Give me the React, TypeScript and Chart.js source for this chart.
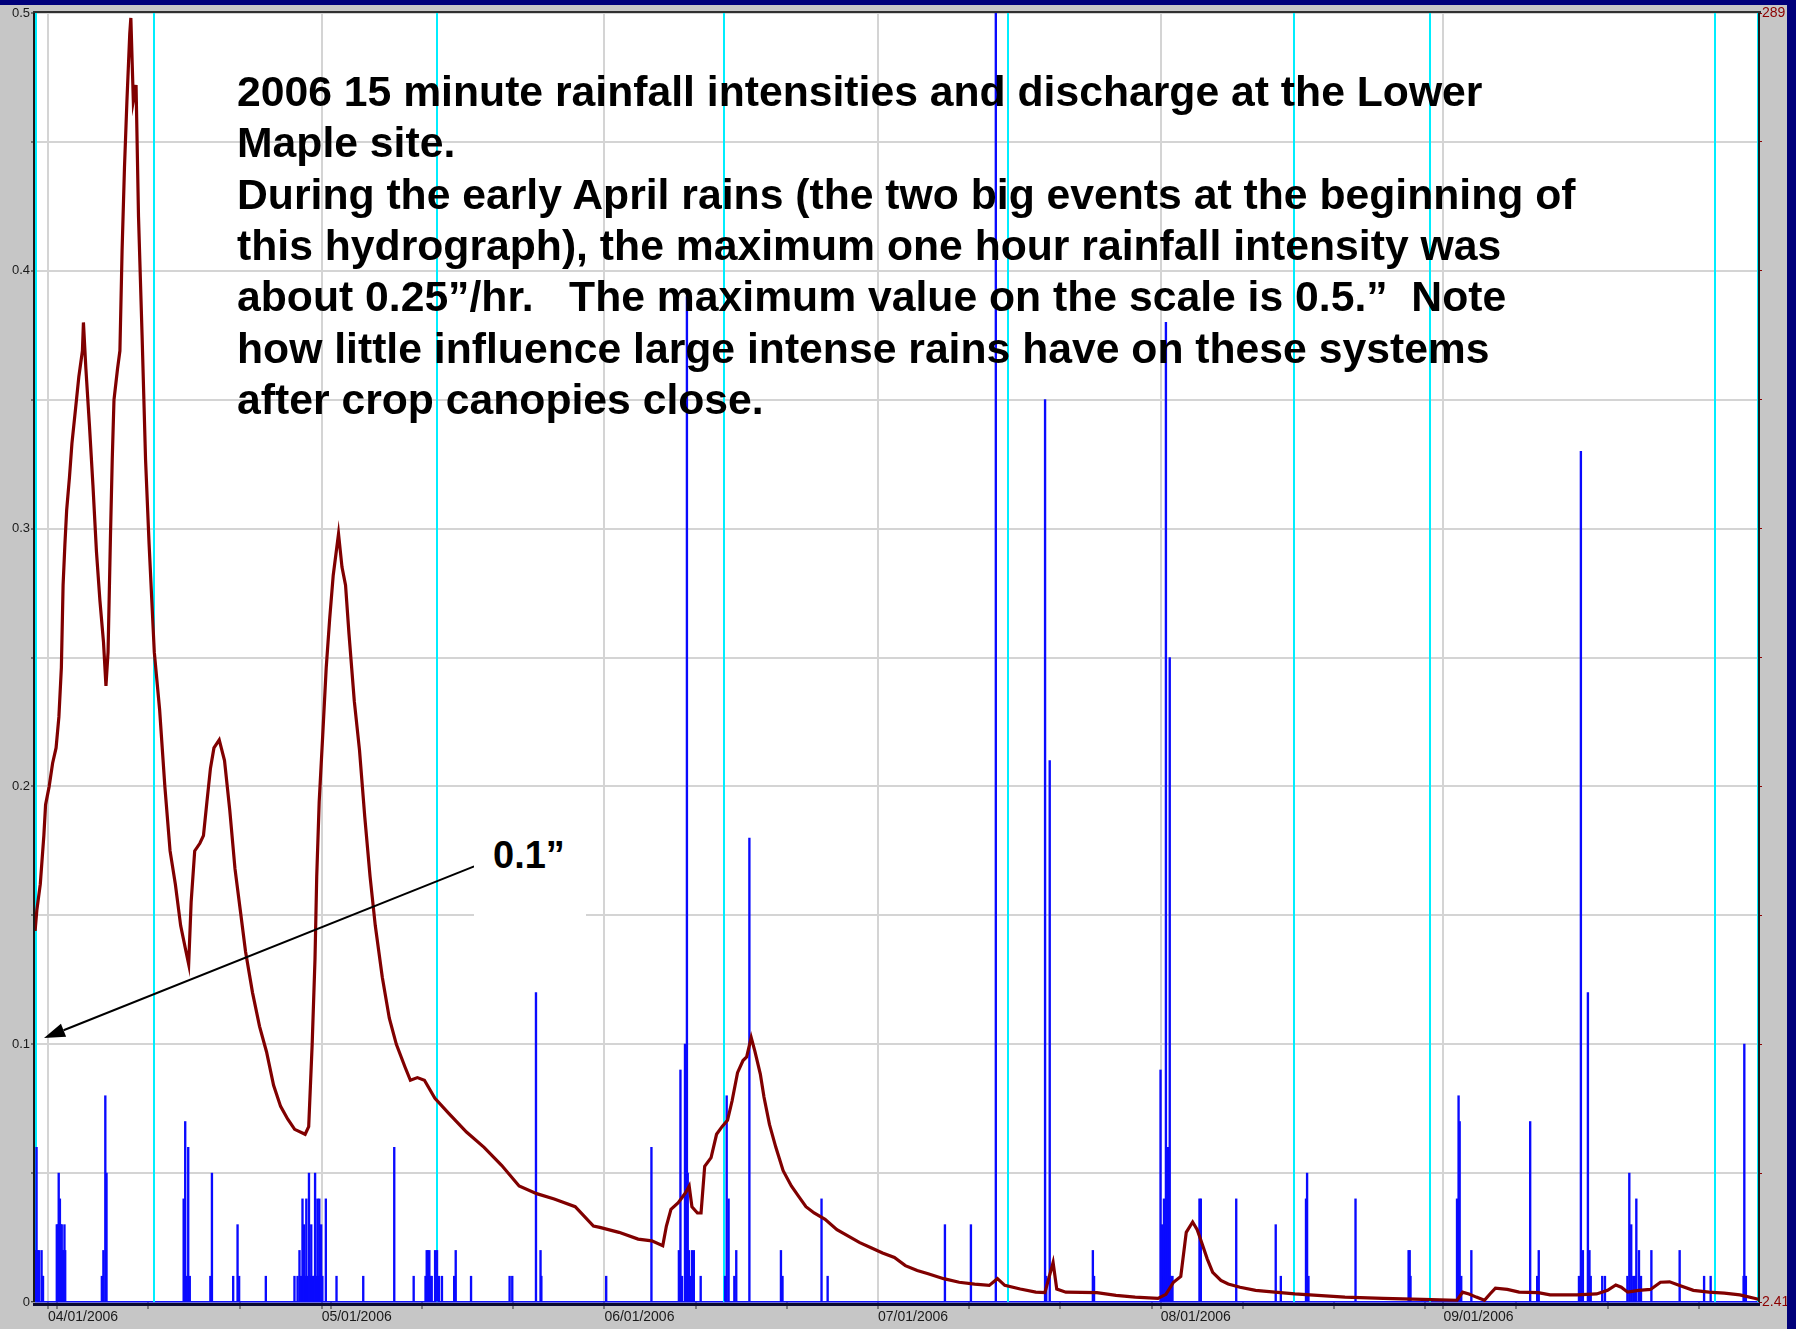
import React, { useEffect, useRef } from 'react';
import { Chart, registerables } from 'chart.js';

Chart.register(...registerables);

// ---------- data (x = days since 04/01/2006) ----------
const xMin = -1.43;
const xMax = 187.6;

const monthTickDays = [0, 30, 61, 91, 122, 153];
const monthTickLabels = ['04/01/2006', '05/01/2006', '06/01/2006', '07/01/2006', '08/01/2006', '09/01/2006'];
const minorTickDays = [1, 11, 21, 31, 41, 51, 71, 81, 101, 111, 121, 131, 141, 151, 161, 171, 181];

const rainTickValues = [0, 0.05, 0.1, 0.15, 0.2, 0.25, 0.3, 0.35, 0.4, 0.45, 0.5];
const rainTickLabels = ['0', '', '0.1', '', '0.2', '', '0.3', '', '0.4', '', '0.5'];

const dischargeAxisMin = 2.41;
const dischargeAxisMax = 289;
const dischargeAxisLabels = ['2.41', '289'];

// 15-minute rainfall (inches)
const rainDays = [
  -1.40, -1.30, -1.26, -1.15, -1.0, -0.71, -0.6, -0.55,
  0.96, 1.05, 1.17, 1.30, 1.42, 1.5, 1.59, 1.68, 1.80, 1.88,
  5.9, 6.07, 6.28, 6.41,
  14.87, 15.04, 15.2, 15.37, 15.54,
  17.8, 17.97, 20.3, 20.78, 20.95, 23.88,
  27.02, 27.36, 27.57, 27.75, 27.9, 28.07, 28.2, 28.32, 28.48, 28.61, 28.74, 28.86, 29.03, 29.15, 29.28, 29.41, 29.54, 29.66, 29.74, 29.87, 29.95, 30.08, 30.46,
  31.63, 34.56, 37.96, 40.09,
  41.39, 41.52, 41.66, 41.81, 41.95, 42.07, 42.44, 42.65, 42.86, 43.19,
  44.53, 44.7, 46.38, 50.61, 50.9, 53.5, 54.0, 54.09, 61.2, 66.16,
  69.17, 69.34, 69.51, 69.84, 70.05, 70.14, 70.26, 70.43, 70.6, 70.81, 71.56,
  74.24, 74.41, 74.62, 75.25, 75.46, 76.9,
  80.36, 80.53, 84.81, 85.48, 98.34, 101.19, 103.92,
  109.32, 109.45, 109.83, 114.56, 114.69,
  121.98, 122.15, 122.28, 122.36, 122.57, 122.78, 122.99, 123.12, 123.29,
  126.25, 126.4, 130.28, 134.61, 135.17, 137.93, 138.05, 138.2, 143.36,
  149.18, 149.3, 149.39, 154.49, 154.66, 154.78, 154.95, 156.06, 162.51, 163.28, 163.45,
  167.86, 168.07, 168.29, 168.84, 169.01, 169.15, 170.41, 170.71,
  173.17, 173.38, 173.59, 173.81, 174.02, 174.15, 174.44, 174.66,
  175.8, 178.9, 181.58, 182.3, 185.91, 185.99, 186.16,
];
const rainInches = [
  0.02, 0.02, 0.06, 0.02, 0.02, 0.02, 0.01, 0.01,
  0.03, 0.03, 0.05, 0.04, 0.03, 0.03, 0.02, 0.02, 0.03, 0.02,
  0.01, 0.02, 0.08, 0.05,
  0.04, 0.07, 0.01, 0.06, 0.01,
  0.01, 0.05, 0.01, 0.03, 0.01, 0.01,
  0.01, 0.01, 0.02, 0.01, 0.04, 0.03, 0.01, 0.04, 0.01, 0.05, 0.01, 0.03, 0.01, 0.01, 0.05, 0.01, 0.04, 0.01, 0.04, 0.01, 0.03, 0.01, 0.04,
  0.01, 0.01, 0.06, 0.01,
  0.01, 0.02, 0.02, 0.02, 0.01, 0.01, 0.02, 0.02, 0.01, 0.01,
  0.01, 0.02, 0.01, 0.01, 0.01, 0.12, 0.02, 0.01, 0.01, 0.06,
  0.02, 0.09, 0.01, 0.10, 0.39, 0.05, 0.02, 0.01, 0.02, 0.02, 0.01,
  0.01, 0.08, 0.04, 0.01, 0.02, 0.18,
  0.02, 0.01, 0.04, 0.01, 0.03, 0.03, 0.50,
  0.35, 0.01, 0.21, 0.02, 0.01,
  0.09, 0.03, 0.01, 0.04, 0.38, 0.06, 0.25, 0.01, 0.01,
  0.04, 0.04, 0.04, 0.03, 0.01, 0.04, 0.05, 0.01, 0.04,
  0.02, 0.02, 0.01, 0.04, 0.08, 0.07, 0.01, 0.02, 0.07, 0.01, 0.02,
  0.01, 0.33, 0.02, 0.12, 0.02, 0.01, 0.01, 0.01,
  0.01, 0.05, 0.03, 0.01, 0.01, 0.04, 0.02, 0.01,
  0.02, 0.02, 0.01, 0.01, 0.01, 0.10, 0.01,
];

// discharge (cfs)
const dischargeDays = [
  -1.42, -1.23, -0.85, -0.46, -0.27, 0.12, 0.5, 0.88, 1.19, 1.46, 1.65, 1.85, 2.04, 2.35, 2.62, 3.0, 3.38, 3.77, 3.88,
  4.15, 4.54, 4.92, 5.31, 5.69, 6.08, 6.35, 6.58, 6.85, 7.04, 7.23, 7.62, 7.88, 8.12, 8.38, 8.65, 8.96, 9.08, 9.35, 9.65,
  9.92, 10.31, 10.69, 11.08, 11.65, 12.23, 12.81, 13.38, 13.96, 14.54, 15.12, 15.42, 15.69, 16.08, 16.65, 17.04, 17.42,
  17.81, 18.19, 18.77, 19.35, 19.92, 20.5, 21.08, 21.65, 22.42, 23.19, 23.96, 24.73, 25.5, 26.27, 27.04, 28.19, 28.58,
  28.96, 29.27, 29.46, 29.73, 30.12, 30.5, 30.88, 31.27, 31.85, 32.23, 32.62, 33.0, 33.58, 34.15, 34.73, 35.31, 35.88,
  36.65, 37.42, 38.19, 39.15, 39.73, 40.5, 41.27, 42.42, 43.96, 45.88, 47.81, 49.73, 51.65, 53.58, 55.5, 57.8, 59.8,
  60.5, 62.6, 64.7, 66.2, 67.4, 67.8, 68.3, 69.1, 69.5, 69.9, 70.3, 70.6, 71.2, 71.6, 72.0, 72.7, 73.3, 73.9, 74.5, 75.0,
  75.6, 76.2, 76.6, 77.1, 77.5, 78.1, 78.5, 79.1, 79.8, 80.6, 81.5, 82.3, 83.1, 84.0, 85.2, 86.5, 87.7, 89.0, 90.3, 91.5,
  92.8, 94.0, 95.3, 96.5, 98.2, 99.9, 101.6, 103.2, 104.1, 104.9, 106.6, 108.3, 109.3, 110.2, 110.6, 111.6, 115.0, 117.1,
  119.2, 121.7, 122.57, 123.4, 124.2, 124.8, 125.5, 126.0, 126.5, 127.1, 127.7, 128.6, 129.4, 130.7, 132.4, 134.5, 136.7,
  139.2, 142.2, 146.4, 150.7, 154.5, 155.1, 155.8, 156.6, 157.5, 158.1, 158.7, 160.0, 161.3, 163.4, 164.7, 167.6, 169.8,
  171.0, 171.9, 172.5, 173.2, 174.4, 175.7, 176.8, 177.8, 178.9, 180.4, 182.1, 183.8, 185.5, 187.2, 187.6,
];
const dischargeCfs = [
  84.9, 89.5, 95.3, 106.1, 113.0, 117.0, 122.2, 125.6, 132.5, 143.4, 161.8, 170.9, 178.4, 185.8, 193.3, 200.7, 208.2, 213.9, 220.2,
  209.9, 197.3, 184.1, 169.2, 158.3, 149.1, 139.4, 146.9, 173.2, 189.8, 203.0, 209.9, 213.9, 236.3, 254.6, 269.5, 284.4, 287.9, 269.5, 273.0,
  243.7, 217.4, 189.8, 170.9, 146.9, 134.2, 117.0, 102.7, 95.3, 86.1, 80.4, 77.5, 91.3, 102.7, 104.4, 106.1, 113.6,
  121.1, 125.6, 127.4, 122.8, 111.9, 98.7, 89.5, 80.4, 71.2, 63.7, 58.0, 50.6, 45.9, 43.1, 40.8, 39.7, 41.4,
  59.7, 78.6, 97.0, 113.6, 128.5, 143.4, 154.3, 164.0, 173.2, 165.8, 161.8, 150.9, 136.0, 125.1, 110.2, 97.0, 86.1,
  74.6, 65.5, 59.7, 54.6, 51.7, 52.3, 51.7, 47.7, 44.3, 40.2, 36.8, 32.8, 28.2, 26.5, 25.3, 23.6, 19.3,
  19.0, 17.9, 16.4, 16.0, 14.9, 19.3, 23.0, 24.5, 25.6, 26.7, 28.2, 23.6, 22.2, 22.2, 32.6, 34.5, 39.7, 41.4, 42.8, 47.1,
  53.4, 56.1, 56.9, 61.2, 58.2, 53.1, 48.0, 41.9, 36.8, 31.6, 28.2, 25.9, 23.6, 22.2, 20.8, 18.5, 17.1, 15.6, 14.4, 13.3,
  12.3, 10.5, 9.4, 8.7, 7.6, 6.8, 6.4, 6.1, 7.6, 6.1, 5.3, 4.6, 4.5, 11.2, 5.3, 4.6, 4.5, 3.9,
  3.5, 3.2, 4.1, 6.8, 8.1, 17.9, 20.2, 18.5, 15.6, 12.0, 9.0, 7.2, 6.4, 5.7, 5.0, 4.6, 4.2,
  3.9, 3.5, 3.2, 3.0, 2.8, 4.6, 4.2, 3.5, 2.8, 4.2, 5.5, 5.2, 4.6, 4.5, 4.0, 4.0, 4.2,
  5.0, 6.2, 5.7, 4.6, 5.0, 5.2, 6.8, 6.9, 6.1, 5.0, 4.6, 4.4, 4.0, 3.2, 3.0,
];

// cyan marker lines (days)
const markerDays = [-1.3, 11.65, 42.65, 74.1, 105.3, 136.6, 151.5, 182.8, 187.45];

// annotation arrow (x in days, y in rainfall inches)
const arrowTail = { x: 46.72, y: 0.169 };
const arrowTip = { x: -0.44, y: 0.1024 };

const titleLines = [
  '2006 15 minute rainfall intensities and discharge at the Lower',
  'Maple site.',
  'During the early April rains (the two big events at the beginning of',
  'this hydrograph), the maximum one hour rainfall intensity was',
  'about 0.25\u201D/hr.   The maximum value on the scale is 0.5.\u201D  Note',
  'how little influence large intense rains have on these systems',
  'after crop canopies close.',
];
const calloutText = '0.1\u201D';

// ---------- styling ----------
const W = 1796;
const H = 1329;
const NAVY = '#00007a';
const PANEL = '#c6c6c6';
const GRID = '#d4d4d4';
const FONT = "'Liberation Sans', Arial, sans-serif";

const xTickValues = [...monthTickDays, ...minorTickDays].sort((a, b) => a - b);

const framePlugin = {
  id: 'frame',
  beforeDraw(chart: any) {
    const { ctx, chartArea: a } = chart;
    ctx.save();
    ctx.fillStyle = NAVY;
    ctx.fillRect(0, 0, W, H);
    ctx.fillStyle = PANEL;
    ctx.fillRect(0, 5, 1787, H - 5);
    ctx.fillStyle = '#ffffff';
    ctx.fillRect(a.left, a.top, a.right - a.left, a.bottom - a.top);
    ctx.restore();
  },
  beforeDatasetsDraw(chart: any) {
    const { ctx, chartArea: a } = chart;
    const xs = chart.scales.x;
    ctx.save();
    ctx.strokeStyle = '#00eeff';
    ctx.lineWidth = 2;
    markerDays.forEach((d) => {
      const px = Math.round(xs.getPixelForValue(d));
      ctx.beginPath();
      ctx.moveTo(px, a.top);
      ctx.lineTo(px, a.bottom);
      ctx.stroke();
    });
    ctx.restore();
  },
  afterDraw(chart: any) {
    const { ctx, chartArea: a } = chart;
    ctx.save();
    // frame
    ctx.fillStyle = '#303030';
    ctx.fillRect(a.left - 2, a.top - 2, a.right - a.left + 4, 2);
    ctx.fillStyle = '#1a1a1a';
    ctx.fillRect(a.left - 2, a.top, 2, a.bottom - a.top);
    ctx.fillRect(a.right - 1, a.top, 2, a.bottom - a.top);
    ctx.fillStyle = '#0a0a30';
    ctx.fillRect(a.left - 2, a.bottom + 1, a.right - a.left + 3, 3);
    // right navy band
    ctx.fillStyle = NAVY;
    ctx.fillRect(1787, 0, W - 1787, H);
    // arrow
    const xs = chart.scales.x;
    const ys = chart.scales.yRain;
    const x1 = xs.getPixelForValue(arrowTail.x);
    const y1 = ys.getPixelForValue(arrowTail.y);
    const x2 = xs.getPixelForValue(arrowTip.x);
    const y2 = ys.getPixelForValue(arrowTip.y);
    const ang = Math.atan2(y2 - y1, x2 - x1);
    const headLen = 21;
    const headHalf = 7;
    const bx = x2 - headLen * Math.cos(ang);
    const by = y2 - headLen * Math.sin(ang);
    ctx.strokeStyle = '#000';
    ctx.lineWidth = 2;
    ctx.beginPath();
    ctx.moveTo(x1, y1);
    ctx.lineTo(bx, by);
    ctx.stroke();
    ctx.fillStyle = '#000';
    ctx.beginPath();
    ctx.moveTo(x2, y2);
    ctx.lineTo(bx + headHalf * Math.sin(ang), by - headHalf * Math.cos(ang));
    ctx.lineTo(bx - headHalf * Math.sin(ang), by + headHalf * Math.cos(ang));
    ctx.closePath();
    ctx.fill();
    ctx.restore();
  },
};

export default function App() {
  const canvasRef = useRef<HTMLCanvasElement>(null);

  useEffect(() => {
    document.body.style.margin = '0';
    document.body.style.overflow = 'hidden';
    const canvas = canvasRef.current;
    if (!canvas) return;

    const chart = new Chart(canvas, {
      type: 'line',
      data: {
        datasets: [
          {
            type: 'line',
            label: 'Discharge (cfs)',
            data: dischargeDays.map((d, i) => ({ x: d, y: dischargeCfs[i] })),
            xAxisID: 'x',
            yAxisID: 'yQ',
            borderColor: '#800000',
            borderWidth: 3.2,
            borderJoinStyle: 'miter',
            pointRadius: 0,
            tension: 0,
            fill: false,
          } as any,
          {
            type: 'bar',
            label: '15 minute rainfall (in)',
            data: rainDays.map((d, i) => ({ x: d, y: rainInches[i] })),
            xAxisID: 'x',
            yAxisID: 'yRain',
            backgroundColor: '#0a0aff',
            borderWidth: 0,
            barThickness: 1.7,
            grouped: false,
          } as any,
        ],
      },
      options: {
        responsive: false,
        animation: false,
        devicePixelRatio: 1,
        events: [],
        layout: { padding: { top: 13, left: 0, right: 0, bottom: 0 } },
        plugins: { legend: { display: false }, tooltip: { enabled: false }, title: { display: false } },
        scales: {
          x: {
            type: 'linear',
            position: 'bottom',
            min: xMin,
            max: xMax,
            offset: false,
            afterBuildTicks: (s: any) => {
              s.ticks = xTickValues.map((v) => ({ value: v }));
            },
            afterFit: (s: any) => {
              s.height = 27;
            },
            ticks: {
              autoSkip: false,
              maxRotation: 0,
              minRotation: 0,
              align: 'start',
              padding: 0,
              color: '#1a1a1a',
              font: { family: FONT, size: 14 },
              callback: (v: any) => {
                const i = monthTickDays.indexOf(Number(v));
                return i >= 0 ? monthTickLabels[i] : '';
              },
            },
            grid: {
              offset: false,
              color: (c: any) => (c.tick && monthTickDays.indexOf(c.tick.value) >= 0 ? GRID : 'rgba(0,0,0,0)'),
              lineWidth: 2,
              tickColor: '#303030',
              tickLength: 7,
              tickWidth: 1,
            },
            border: { display: false },
          },
          yRain: {
            type: 'linear',
            position: 'left',
            min: 0,
            max: 0.5,
            afterBuildTicks: (s: any) => {
              s.ticks = rainTickValues.map((v) => ({ value: v }));
            },
            afterFit: (s: any) => {
              s.width = 35;
            },
            ticks: {
              autoSkip: false,
              padding: 1,
              color: '#1a1a1a',
              font: { family: FONT, size: 13 },
              callback: (_v: any, i: number) => rainTickLabels[i],
            },
            grid: {
              color: (c: any) => (c.tick && c.tick.value === 0 ? '#1414ff' : GRID),
              lineWidth: (c: any) => (c.tick && c.tick.value === 0 ? 1.5 : 2),
              tickColor: '#1a1a1a',
              tickLength: 4,
              tickWidth: 1,
            },
            border: { display: false },
          },
          yQ: {
            type: 'linear',
            position: 'right',
            min: dischargeAxisMin,
            max: dischargeAxisMax,
            afterBuildTicks: (s: any) => {
              const t = [];
              for (let k = 0; k <= 10; k++) {
                t.push({ value: dischargeAxisMin + (k * (dischargeAxisMax - dischargeAxisMin)) / 10 });
              }
              s.ticks = t;
            },
            afterFit: (s: any) => {
              s.width = 37;
            },
            ticks: {
              autoSkip: false,
              padding: 0,
              color: '#8b0000',
              font: { family: FONT, size: 14 },
              callback: (_v: any, i: number, arr: any[]) =>
                i === 0 ? dischargeAxisLabels[0] : i === arr.length - 1 ? dischargeAxisLabels[1] : '',
            },
            grid: {
              drawOnChartArea: false,
              tickColor: '#8b0000',
              tickLength: 3,
              tickWidth: 1,
            },
            border: { display: false },
          },
        },
      } as any,
      plugins: [framePlugin],
    });

    return () => chart.destroy();
  }, []);

  return (
    <div style={{ position: 'absolute', left: 0, top: 0, width: W, height: H, overflow: 'hidden', background: NAVY }}>
      <canvas ref={canvasRef} width={W} height={H} style={{ position: 'absolute', left: 0, top: 0, width: W, height: H }} />
      <div
        style={{
          position: 'absolute',
          left: 237,
          top: 66,
          fontFamily: FONT,
          fontWeight: 'bold',
          fontSize: '42.7px',
          color: '#000',
          whiteSpace: 'pre',
        }}
      >
        {titleLines.map((t, i) => (
          <div key={i} style={{ height: '51.35px', lineHeight: '51.35px' }}>
            {t}
          </div>
        ))}
      </div>
      <div
        style={{
          position: 'absolute',
          left: 474,
          top: 820,
          width: 112,
          height: 150,
          background: '#ffffff',
        }}
      >
        <div
          style={{
            position: 'absolute',
            left: 19,
            top: 13,
            fontFamily: FONT,
            fontWeight: 'bold',
            fontSize: '38px',
            lineHeight: '44px',
            color: '#000',
            whiteSpace: 'pre',
          }}
        >
          {calloutText}
        </div>
      </div>
    </div>
  );
}
